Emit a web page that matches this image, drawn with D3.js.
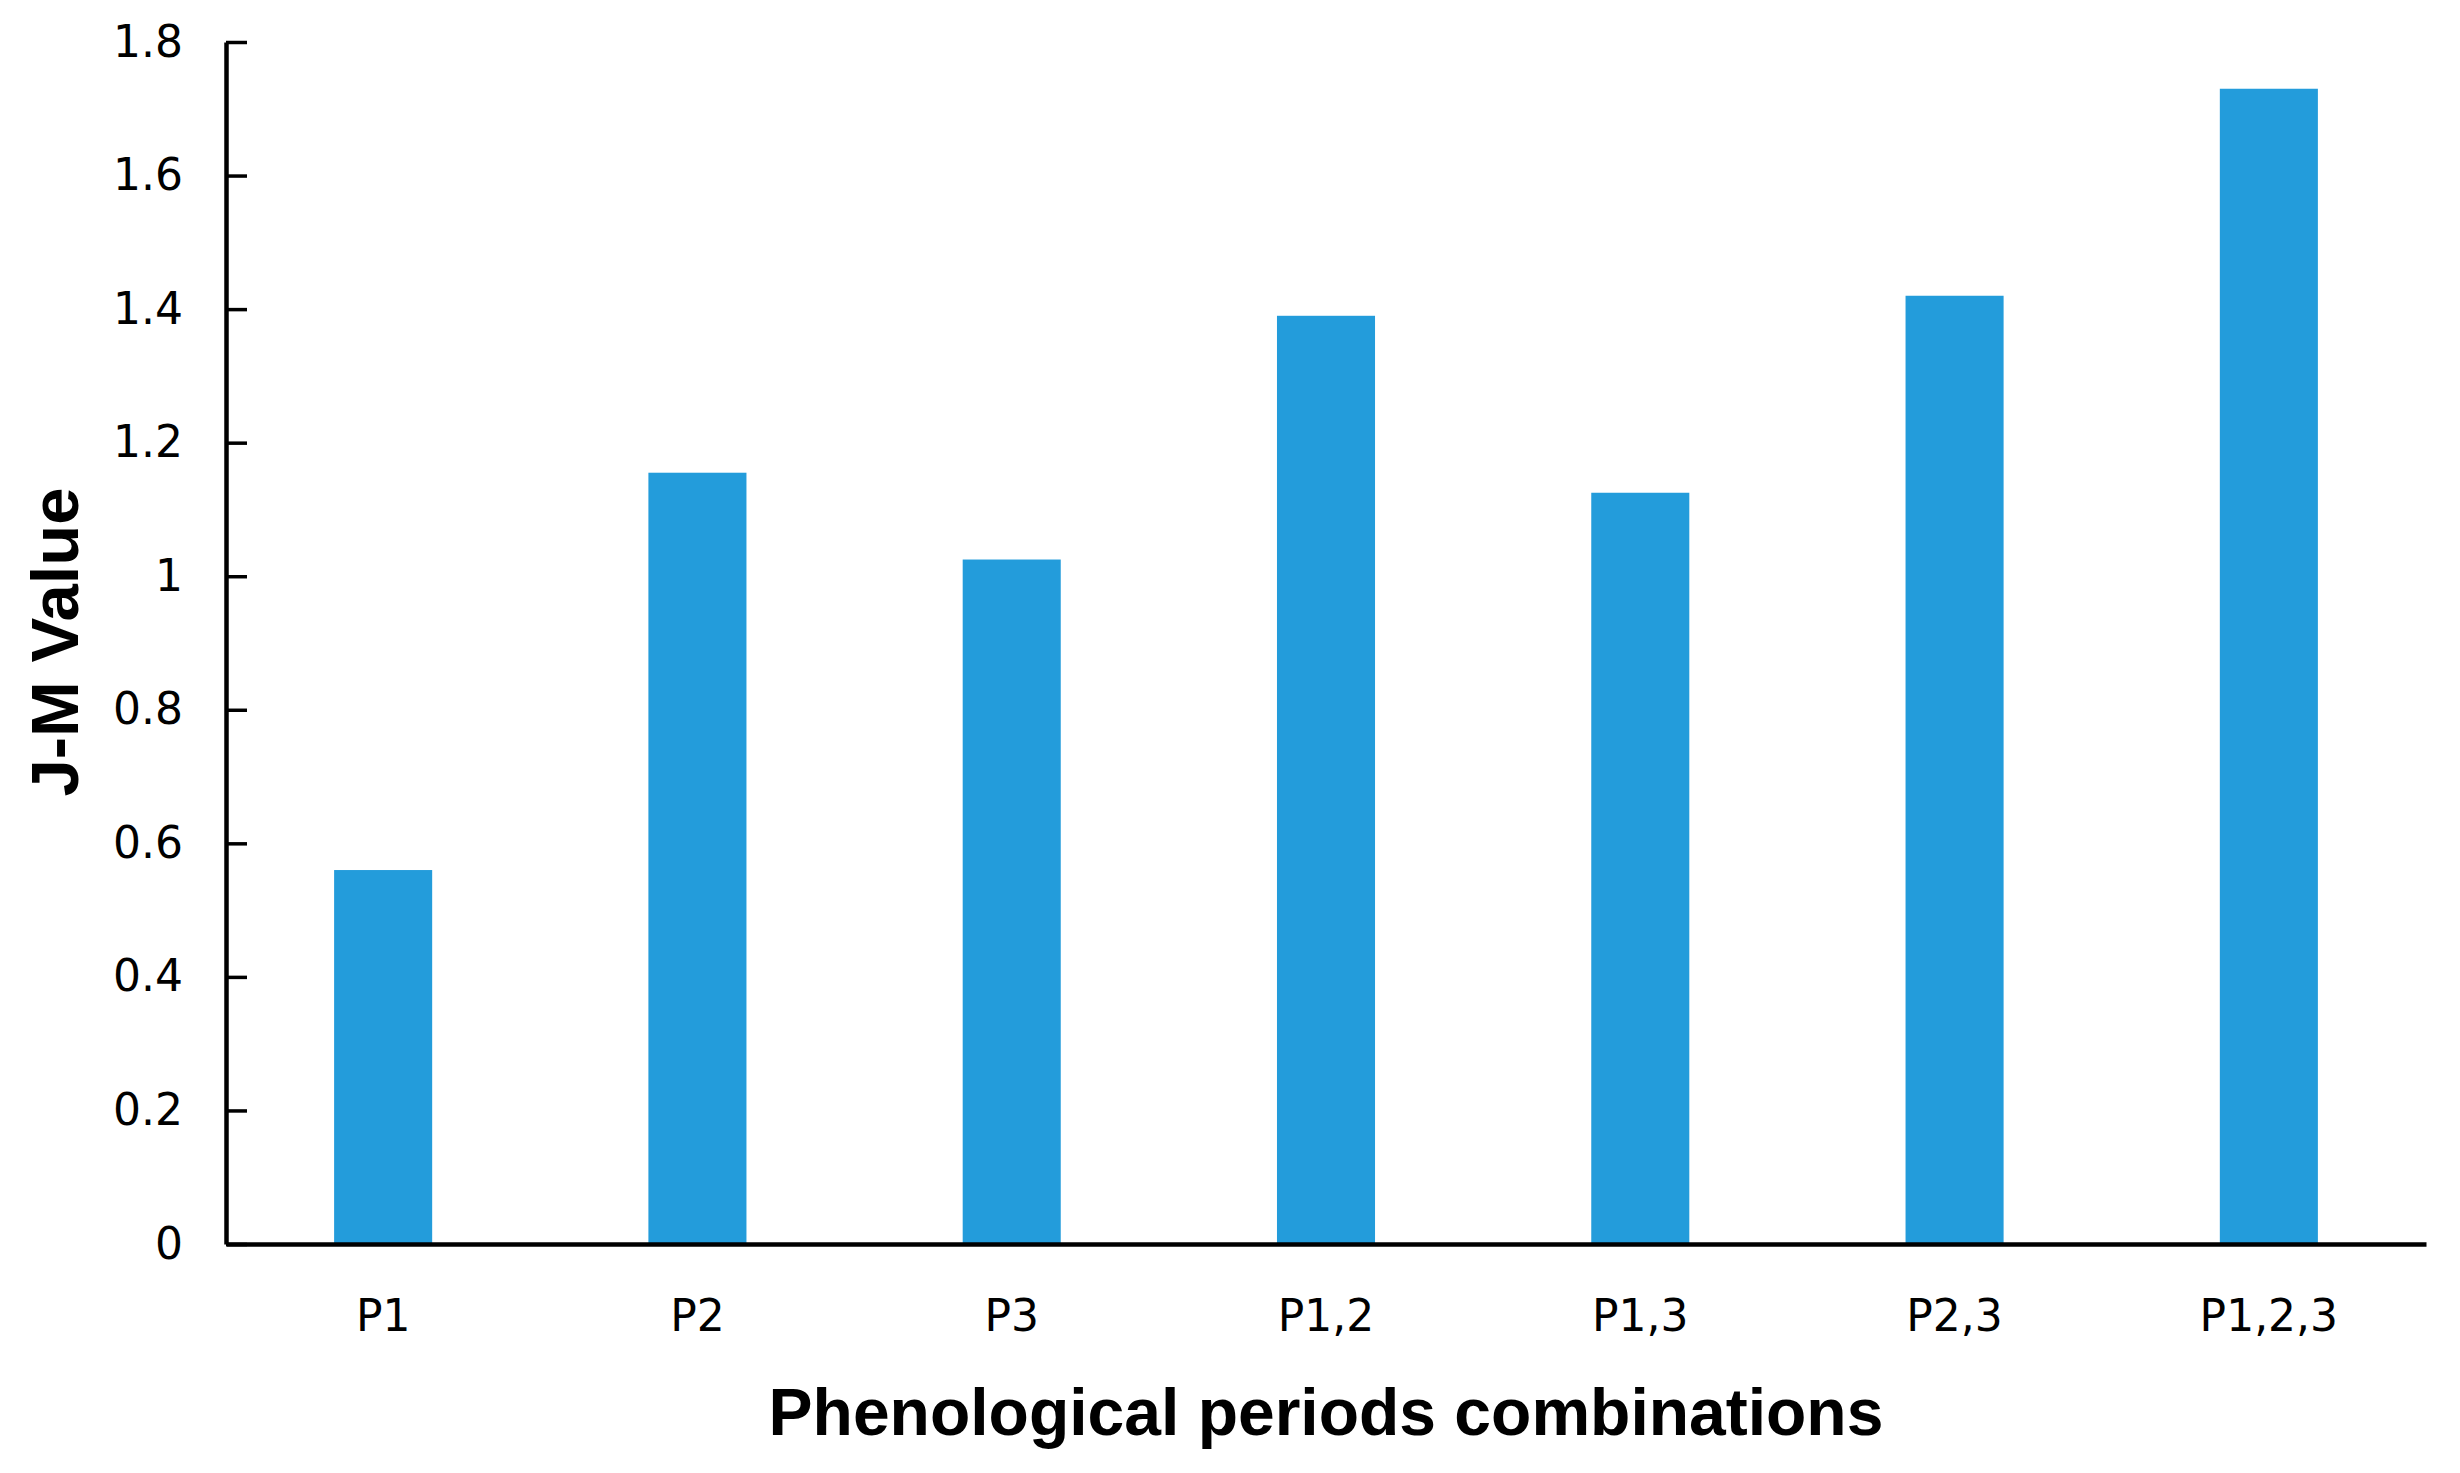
<!DOCTYPE html>
<html>
<head>
<meta charset="utf-8">
<script src="https://cdn.jsdelivr.net/npm/d3@7"></script>
<style>
  html, body { margin: 0; padding: 0; background: #fff; }
  svg { display: block; }
</style>
</head>
<body>
<svg id="chart" width="2460" height="1473"></svg>
<script>
const categories = ["P1", "P2", "P3", "P1,2", "P1,3", "P2,3", "P1,2,3"];
const jmValues = [0.56, 1.155, 1.025, 1.39, 1.125, 1.42, 1.73];
const yTicks = [0, 0.2, 0.4, 0.6, 0.8, 1, 1.2, 1.4, 1.6, 1.8];
const xTitle = "Phenological periods combinations";
const yTitle = "J-M Value";

(function () {
const svg = d3.select("#chart");
const mLeft = 226, mRight = 2426, mTop = 42, mBottom = 1244;

const x = d3.scaleBand().domain(categories).range([mLeft, mRight])
  .paddingInner(0.688).paddingOuter(0.344);
const y = d3.scaleLinear().domain([0, 1.8]).range([mBottom, mTop]);

svg.append("g").selectAll("rect").data(categories).join("rect")
  .attr("x", d => x(d))
  .attr("width", x.bandwidth())
  .attr("y", (d, i) => y(jmValues[i]))
  .attr("height", (d, i) => y(0) - y(jmValues[i]))
  .attr("fill", "#239cdb");

const yAxis = svg.append("g").attr("transform", `translate(${mLeft},0)`)
  .call(d3.axisLeft(y).tickValues(yTicks).tickFormat(d3.format("~g"))
    .tickSizeInner(-21).tickSizeOuter(0).tickPadding(43));
yAxis.select(".domain").attr("stroke", "#000").attr("stroke-width", 4.5);
yAxis.selectAll(".tick line").attr("stroke", "#000").attr("stroke-width", 3.5);
yAxis.selectAll(".tick text").attr("font-family", "DejaVu Sans").attr("font-size", 44).attr("fill", "#000");

const xAxis = svg.append("g").attr("transform", `translate(0,${mBottom})`)
  .call(d3.axisBottom(x).tickSize(0).tickPadding(56));
xAxis.select(".domain").attr("stroke", "#000").attr("stroke-width", 4.5);
xAxis.selectAll(".tick text").attr("font-family", "DejaVu Sans").attr("font-size", 44).attr("fill", "#000");

svg.append("text")
  .attr("x", (mLeft + mRight) / 2).attr("y", 1435)
  .attr("text-anchor", "middle")
  .attr("font-family", "Liberation Sans, Arial, sans-serif")
  .attr("font-weight", "bold").attr("font-size", 66)
  .text(xTitle);

svg.append("text")
  .attr("transform", "translate(78,642) rotate(-90)")
  .attr("text-anchor", "middle")
  .attr("font-family", "Liberation Sans, Arial, sans-serif")
  .attr("font-weight", "bold").attr("font-size", 67)
  .text(yTitle);
})();
</script>
</body>
</html>
